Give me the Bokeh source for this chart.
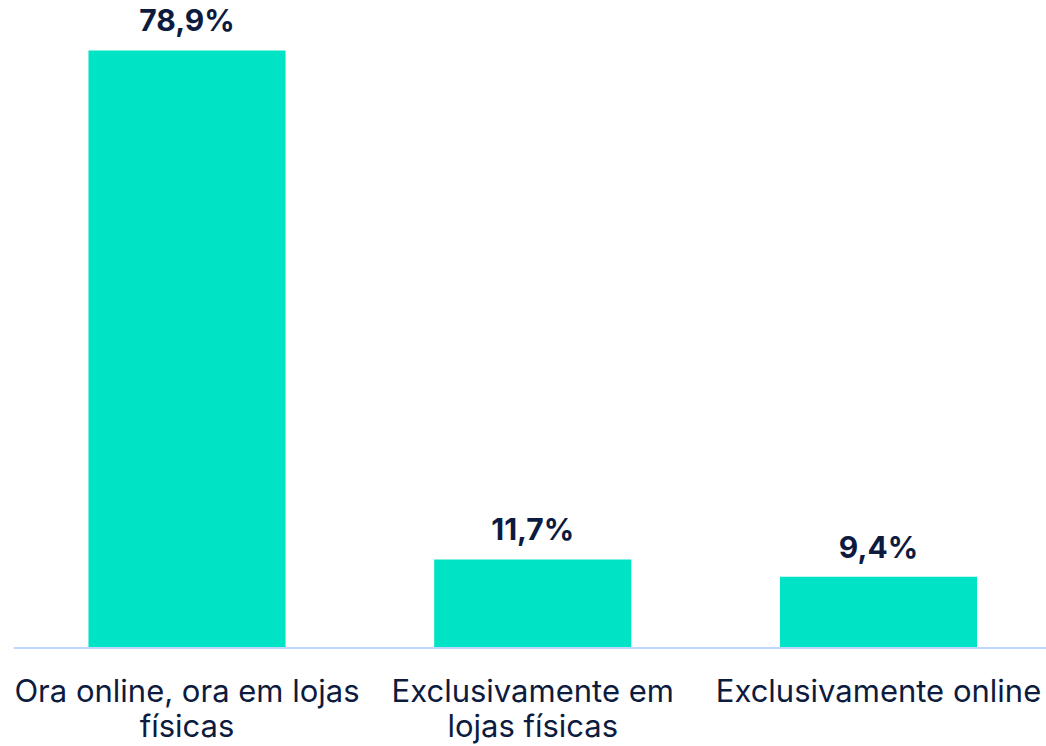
from bokeh.plotting import figure
from bokeh.models import ColumnDataSource, Range1d, Span
from bokeh.core.properties import value
from bokeh.embed import file_html
from bokeh.resources import INLINE

categories = ["Ora online, ora em lojas\nfísicas", "Exclusivamente em\nlojas físicas", "Exclusivamente online"]
values = [78.9, 11.7, 9.4]
value_labels = [f"{v:.1f}".replace(".", ",") + "%" for v in values]

BAR = "#00E3C4"
TEXT = "#0D1B3E"
BASE = "#BFD6FF"

xs = list(range(len(categories)))
src = ColumnDataSource(dict(x=xs, top=values, lab=value_labels, cat=categories, zero=[0] * len(xs)))

p = figure(width=1046, height=746, output_backend="svg", toolbar_location=None,
           x_range=Range1d(-0.5018, 2.4859), y_range=Range1d(-13.01, 85.50),
           x_axis_location=None, y_axis_location=None,
           min_border_left=13, min_border_right=0, min_border_top=0, min_border_bottom=0)

p.vbar(x="x", top="top", bottom=0, width=0.57, source=src, fill_color=BAR, line_color=None)
p.add_layout(Span(location=0, dimension="width", line_color=BASE, line_width=2))

p.text(x="x", y="top", text="lab", source=src, text_align="center", text_baseline="alphabetic",
       y_offset=-30, text_font=value("Inter"), text_font_style="bold", text_font_size="30px",
       text_color=TEXT)

p.text(x="x", y="zero", text="cat", source=src, text_align="center", text_baseline="top",
       y_offset=24, text_line_height=0.96, text_font=value("Inter"), text_font_size="31px",
       text_color=TEXT)

p.xgrid.visible = False
p.ygrid.visible = False
p.outline_line_color = None
p.background_fill_color = "white"
p.border_fill_color = "white"

open("out.html", "w").write(file_html(p, INLINE))
